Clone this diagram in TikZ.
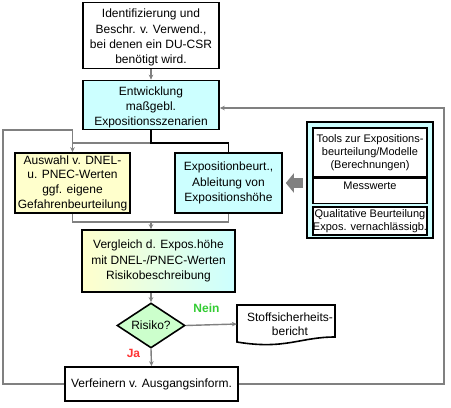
\documentclass[tikz,border=0pt]{standalone}
\usepackage{fontspec}
\setmainfont{Liberation Sans}
\usetikzlibrary{arrows.meta,shapes.geometric}
\definecolor{cyanfill}{HTML}{CCFFFF}
\definecolor{yelfill}{HTML}{FFFFCC}
\definecolor{grnfill}{HTML}{CCFFCC}
\definecolor{conn}{HTML}{808080}
\definecolor{neingreen}{HTML}{33CC33}
\definecolor{jared}{HTML}{FF3333}
\begin{document}
\begin{tikzpicture}[x=1pt,y=-1pt,
 box/.style={draw=black,line width=1.6pt,align=center,inner sep=0pt,font=\fontsize{12}{15.2}\selectfont},
 ibox/.style={draw=black,line width=1.6pt,fill=white,inner sep=0pt,align=center,minimum width=114pt},
 gline/.style={draw=conn,line width=1.4pt},
 garrow/.style={gline,-{Stealth[length=5pt,width=4.5pt]}},
 bline/.style={draw=black,line width=1.4pt},
 small/.style={font=\fontsize{11}{13}\selectfont},
 main/.style={font=\fontsize{12}{14.5}\selectfont},
]
\useasboundingbox (0,0) rectangle (451,408);

% boxes
\node[box,fill=white,minimum width=136pt,minimum height=66pt] (ident) at (151,35.5) {\rule{0pt}{13pt}Identifizierung und\\Beschr. v. Verwend.,\\bei denen ein DU-CSR\\benötigt wird.};
\node[box,fill=cyanfill,minimum width=136pt,minimum height=49pt] (entw) at (151,105) {\rule{0pt}{14pt}Entwicklung\\maßgebl.\\Expositionsszenarien};
\node[box,fill=yelfill,minimum width=115pt,minimum height=60pt,font=\fontsize{12}{14.6}\selectfont] (ausw) at (72.5,183) {Auswahl v. DNEL-\\u. PNEC-Werten\\ggf. eigene\\Gefahrenbeurteilung};
\node[box,fill=cyanfill,minimum width=107pt,minimum height=60pt] (expo) at (228.5,183) {Expositionbeurt.,\\Ableitung von\\Expositionshöhe};
\node[box,left color=yelfill,right color=cyanfill,minimum width=153pt,minimum height=62pt] (vergl) at (158.5,261) {Vergleich d. Expos.höhe\\mit DNEL-/PNEC-Werten\\Risikobeschreibung};
\node[diamond,draw=black,line width=1.6pt,fill=grnfill,minimum width=68pt,minimum height=45pt,inner sep=0pt] (risk) at (151,325.5) {};
\node[main] (risktxt) at (risk) {Risiko?};

% document shape
\node[minimum width=98pt,minimum height=38pt,inner sep=0pt] (doc) at (286,324) {};
\draw[line width=1.6pt,fill=white] (237,305) -- (335,305) -- (335,337) .. controls (300,337) and (285,350) .. (237,342) -- cycle;
\node[main,align=center] (doctxt) at (290,324) {Stoffsicherheits-\\bericht};

\node[box,fill=white,minimum width=173pt,minimum height=34pt] (verf) at (151.5,384) {Verfeinern v. Ausgangsinform.};

% right group
\node[draw=black,line width=1.6pt,fill=cyanfill,minimum width=126pt,minimum height=116pt,inner sep=0pt] (grp) at (370,180) {};
\node[ibox,small,minimum height=49pt] (tools) at (370,152.5) {Tools zur Expositions-\\beurteilung/Modelle\\(Berechnungen)};
\node[ibox,minimum height=25pt] (mess) at (370,191) {};
\node[small] (messtxt) at (370,185.5) {Messwerte};
\node[ibox,small,minimum height=28pt] (qual) at (370,221) {Qualitative Beurteilung\\Expos. vernachlässigb.};

% thick arrow
\draw[draw=conn,line width=10pt,-{Triangle[length=8pt,width=19pt]},shorten <=3pt,shorten >=3pt] (grp.west |- expo.east) -- (expo.east);

% connectors
\coordinate (j1) at (151,143);
\coordinate (j2) at (228.5,143);
\coordinate (j3) at (72.5,130);
\coordinate (j4) at (151,222);
\coordinate (j5) at (444,108);
\coordinate (lc) at (3,130);

\draw[garrow] (ident) -- (entw);
\draw[gline] (j1) -- (72.5,143);
\draw[garrow] (verf.west) -- (lc |- verf.west) -- (lc) -- (j3) -- (ausw.north);
\draw[bline] (entw.south) -- (j1) -- (j2) -- (expo.north);
\draw[gline] (ausw.south) -- (ausw.south |- j4) -- (j2 |- j4) -- (expo.south);
\draw[garrow] (j4) -- (j4 |- vergl.north);
\draw[garrow] (risk.north |- vergl.south) -- (risk.north);
\draw[garrow] (risk.east) -- (doc.west);
\draw[garrow] (risk.south) -- (verf.north);
\draw[garrow] (verf.east) -- (j5 |- verf.east) -- (j5) -- (entw.east |- j5);

% labels
\node[text=neingreen,font=\bfseries\fontsize{12}{14}\selectfont] (nein) at (206.5,308) {Nein};
\node[text=jared,font=\bfseries\fontsize{12}{14}\selectfont] (ja) at (133.5,353) {Ja};
\end{tikzpicture}
\end{document}
